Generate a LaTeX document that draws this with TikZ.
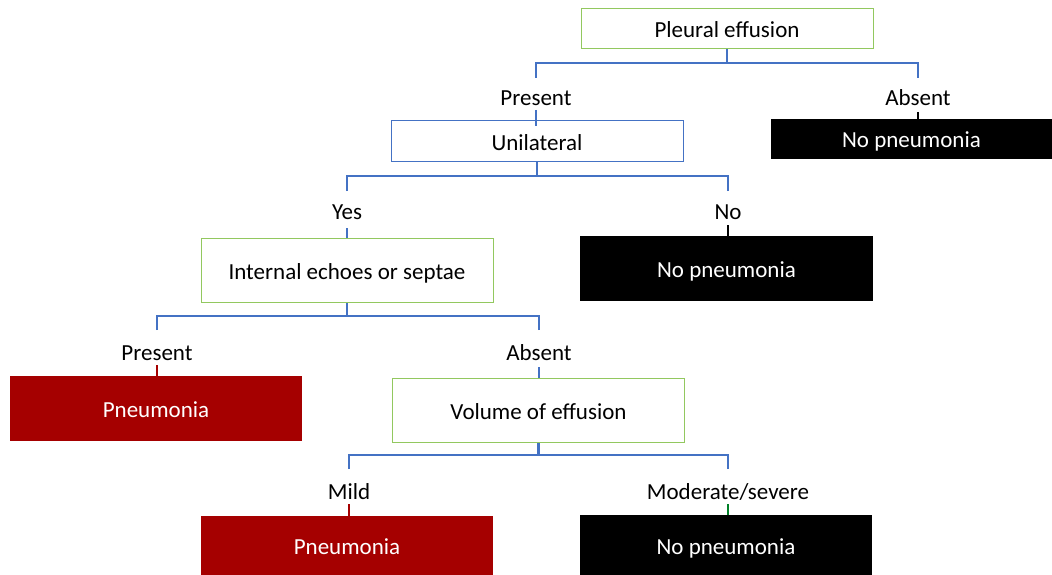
\documentclass[tikz,border=0pt]{standalone}
\usepackage{fontspec}
\setmainfont{Carlito}
\begin{document}
\begin{tikzpicture}[x=1pt,y=-1pt,
  every node/.style={font=\fontsize{23}{27}\selectfont, text height=20pt, text depth=2pt},
  decision/.style={draw=boxgreen, line width=1pt, fill=white, minimum width=292pt, inner sep=0pt},
  question/.style={draw=linkblue, line width=1pt, fill=white, minimum width=292pt, minimum height=40pt, inner sep=0pt},
  negative/.style={fill=black, text=white, minimum width=292pt, inner sep=0pt},
  positive/.style={fill=darkred, text=white, minimum width=292pt, inner sep=0pt},
  choice/.style={inner sep=0pt, text=black},
  conn/.style={draw=linkblue, line width=2.8pt},
  stub/.style={line width=1.6pt}]
\definecolor{boxgreen}{RGB}{146,200,95}
\definecolor{linkblue}{RGB}{68,114,196}
\definecolor{darkred}{RGB}{165,0,0}
\definecolor{stubgreen}{RGB}{0,128,40}
\useasboundingbox (0,0) rectangle (1052,575);

% boxes
\node[decision, minimum height=40pt] (pe) at (727,29) {Pleural effusion};
\node[question] (uni) at (537,141) {Unilateral};
\node[negative, minimum width=281pt, minimum height=40pt] (np1) at (911.5,139) {No pneumonia};
\node[decision, minimum height=64pt] (echo) at (347,270) {Internal echoes or septae};
\node[negative, minimum width=293pt, minimum height=65pt] (np2) at (726.5,268.5) {No pneumonia};
\node[positive, minimum height=65pt] (pn1) at (156,408.5) {Pneumonia};
\node[decision, minimum height=64pt] (vol) at (538.5,410) {Volume of effusion};
\node[positive, minimum height=59pt] (pn2) at (347,545.5) {Pneumonia};
\node[negative, minimum height=60pt] (np3) at (726,545) {No pneumonia};

% branch labels
\node[choice] (l1) at (536,97) {Present};
\node[choice] (l2) at (918,97) {Absent};
\node[choice] (l3) at (347,210) {Yes};
\node[choice] (l4) at (728,210) {No};
\node[choice] (l5) at (157,351) {Present};
\node[choice] (l6) at (539,351) {Absent};
\node[choice] (l7) at (349,490) {Mild};
\node[choice] (l8) at (728,490) {Moderate/severe};

% forks under each question
\draw[conn] (l1) ++(0,-19) -- ++(0,-15) -| (pe.south);
\draw[conn] (l2) ++(0,-19) -- ++(0,-15) -| (pe.south);
\draw[conn] (l3) ++(0,-19) -- ++(0,-15) -| (uni.south);
\draw[conn] (l4) ++(0,-19) -- ++(0,-15) -| (uni.south);
\draw[conn] (l5) ++(0,-21) -- ++(0,-14) -| (echo.south);
\draw[conn] (l6) ++(0,-21) -- ++(0,-14) -| (echo.south);
\draw[conn] (l7) ++(0,-21) -- ++(0,-14) -| (vol.south);
\draw[conn] (l8) ++(0,-21) -- ++(0,-14) -| (vol.south);

% short ties from labels to their outcome boxes
\draw[conn] (l1) ++(0,13) -- ([yshift=-6pt]uni.north -| l1);
\draw[stub, black] (l2) ++(0,15) -- (np1.north -| l2);
\draw[conn] (l3) ++(0,18) -- (echo.north -| l3);
\draw[stub, black] (l4) ++(0,15) -- (np2.north -| l4);
\draw[stub, darkred] (l5) ++(0,14) -- (pn1.north -| l5);
\draw[conn] (l6) ++(0,16) -- (vol.north -| l6);
\draw[stub, darkred] (l7) ++(0,14) -- (pn2.north -| l7);
\draw[stub, stubgreen] (l8) ++(0,14) -- (np3.north -| l8);
\end{tikzpicture}
\end{document}
